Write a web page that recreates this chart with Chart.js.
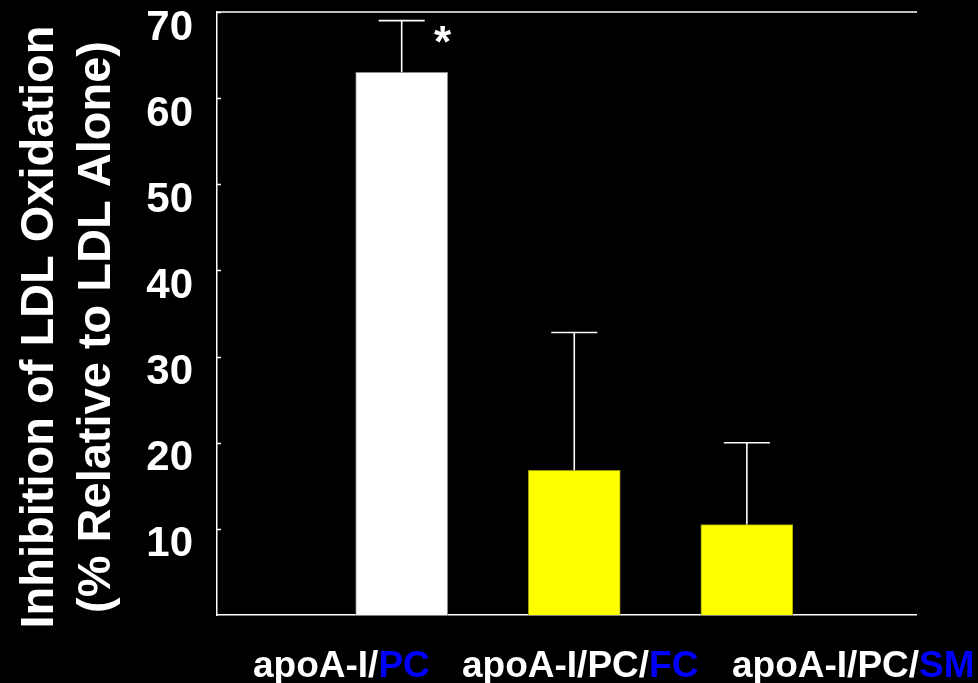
<!DOCTYPE html>
<html>
<head>
<meta charset="utf-8">
<script src="https://cdn.jsdelivr.net/npm/chart.js@4"></script>
<style>
  html, body { margin: 0; padding: 0; background: #000; }
  canvas { display: block; }
</style>
</head>
<body>
<canvas id="c" width="978" height="683"></canvas>
<script>
// Inhibition of LDL oxidation by reconstituted apoA-I particles
const categories   = ['apoA-I/PC', 'apoA-I/PC/FC', 'apoA-I/PC/SM'];
const labelPrefix  = ['apoA-I/', 'apoA-I/PC/', 'apoA-I/PC/'];
const labelAccent  = ['PC', 'FC', 'SM'];
const inhibition   = [63, 16.8, 10.5];   // mean, % relative to LDL alone
const errorUpper   = [6, 16, 9.5];       // upper error (SD)
const significant  = [true, false, false];
const yTickValues  = [10, 20, 30, 40, 50, 60, 70];
const yTitleLines  = ['Inhibition of LDL Oxidation', '(% Relative to LDL Alone)'];

const barFill   = ['#ffffff', '#ffff00', '#ffff00'];
const barStroke = ['#8a8a8a', '#9a9a00', '#9a9a00'];
const ACCENT = '#0000ff';
const FONT = '"Liberation Sans", Arial, Helvetica, sans-serif';

// horizontal start of each category caption
const captionStart = [253, 462, 732];

const bg = {
  id: 'bg',
  beforeDraw(chart) {
    const { ctx } = chart;
    ctx.save();
    ctx.fillStyle = '#000';
    ctx.fillRect(0, 0, chart.width, chart.height);
    ctx.restore();
  }
};

const decorations = {
  id: 'decorations',
  afterDatasetsDraw(chart) {
    const { ctx, chartArea: a, scales: { y } } = chart;
    const meta = chart.getDatasetMeta(0);
    ctx.save();

    // frame top line and inward ticks
    ctx.strokeStyle = '#fff';
    ctx.lineWidth = 1.5;
    ctx.beginPath();
    ctx.moveTo(a.left, a.top);
    ctx.lineTo(a.right + 1, a.top);
    yTickValues.forEach(v => {
      const py = Math.round(y.getPixelForValue(v)) + 0.5;
      ctx.moveTo(a.left, py);
      ctx.lineTo(a.left + 4, py);
    });
    ctx.stroke();

    // upper error bars
    ctx.lineWidth = 1.6;
    meta.data.forEach((bar, i) => {
      const cx = bar.x;
      const y0 = y.getPixelForValue(inhibition[i]);
      const y1 = y.getPixelForValue(inhibition[i] + errorUpper[i]);
      const half = bar.width / 4;
      ctx.beginPath();
      ctx.moveTo(cx, y0);
      ctx.lineTo(cx, y1);
      ctx.moveTo(cx - half, y1);
      ctx.lineTo(cx + half, y1);
      ctx.stroke();
      if (significant[i]) {
        ctx.fillStyle = '#fff';
        ctx.font = 'bold 44px ' + FONT;
        ctx.textAlign = 'center';
        ctx.textBaseline = 'alphabetic';
        ctx.fillText('*', cx + 41, y1 + 36);
      }
    });

    // category captions
    ctx.font = 'bold 37px ' + FONT;
    ctx.textAlign = 'left';
    ctx.textBaseline = 'alphabetic';
    categories.forEach((c, i) => {
      let x = captionStart[i];
      ctx.fillStyle = '#fff';
      ctx.fillText(labelPrefix[i], x, 677);
      x += ctx.measureText(labelPrefix[i]).width;
      ctx.fillStyle = ACCENT;
      ctx.fillText(labelAccent[i], x, 677);
    });

    // rotated y-axis title
    ctx.font = 'bold 47px ' + FONT;
    ctx.fillStyle = '#fff';
    ctx.textAlign = 'center';
    ctx.textBaseline = 'alphabetic';
    const baselines = [53, 110];
    yTitleLines.forEach((t, i) => {
      ctx.save();
      ctx.translate(baselines[i], 327);
      ctx.rotate(-Math.PI / 2);
      ctx.fillText(t, 0, 0);
      ctx.restore();
    });
    ctx.restore();
  }
};

function noPad(s) {
  s.paddingTop = 0;
  s.paddingBottom = 0;
  s.paddingLeft = 0;
  s.paddingRight = 0;
}

new Chart(document.getElementById('c'), {
  type: 'bar',
  data: {
    datasets: [{
      data: inhibition.map((v, i) => ({ x: i + 1, y: v })),
      backgroundColor: barFill,
      borderColor: barStroke,
      borderWidth: 1,
      barThickness: 92
    }]
  },
  options: {
    responsive: false,
    animation: false,
    devicePixelRatio: 1,
    layout: { padding: { left: 0, right: 62, top: 12, bottom: 0 } },
    plugins: { legend: { display: false }, tooltip: { enabled: false } },
    scales: {
      x: {
        type: 'linear',
        min: -0.07,
        max: 3.98,
        offset: false,
        grid: { display: false },
        border: { display: true, color: '#fff', width: 1.5 },
        ticks: { display: false },
        afterFit(s) { s.height = 68; noPad(s); }
      },
      y: {
        min: 0,
        max: 70,
        grid: { display: false, drawTicks: false },
        border: { display: true, color: '#fff', width: 1.5 },
        ticks: {
          stepSize: 10,
          color: '#fff',
          padding: 24,
          labelOffset: 16,
          font: { family: FONT, weight: 'bold', size: 42 },
          callback: v => (v === 0 ? '' : v)
        },
        afterFit(s) { s.width = 217; noPad(s); }
      }
    }
  },
  plugins: [bg, decorations]
});
</script>
</body>
</html>
